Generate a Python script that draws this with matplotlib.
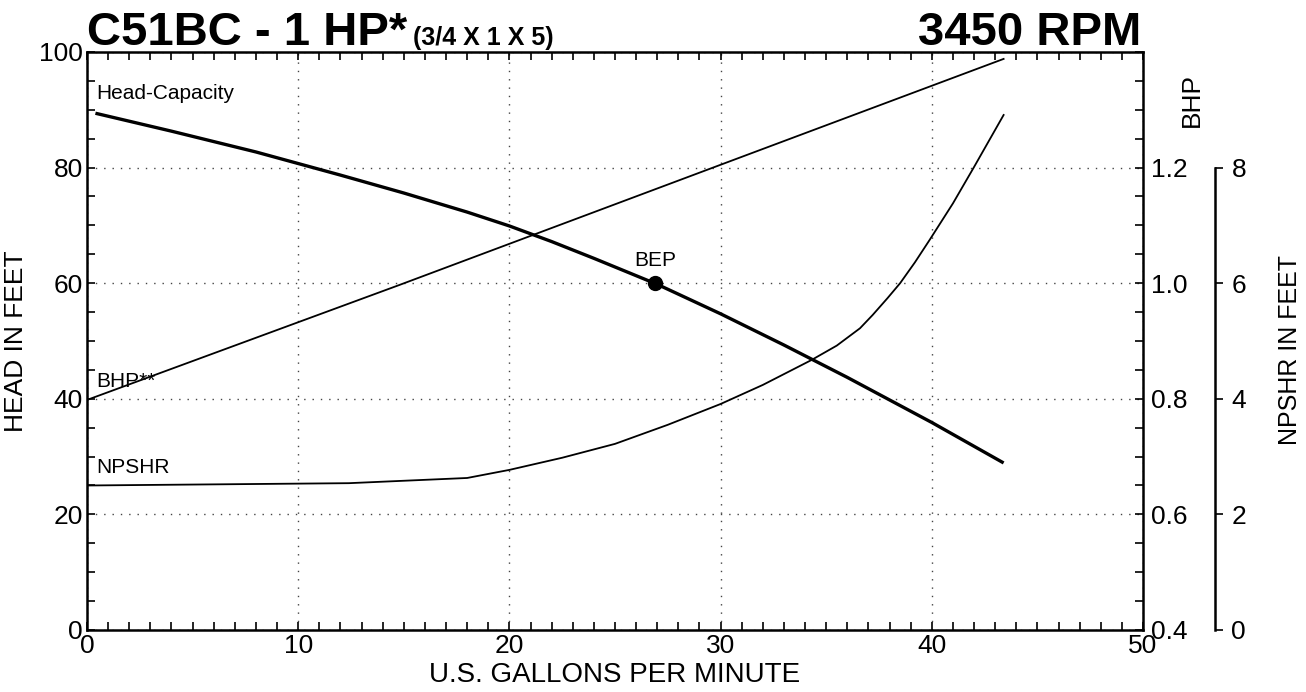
import matplotlib
matplotlib.use("Agg")
import matplotlib.pyplot as plt
from matplotlib.ticker import MultipleLocator, FixedLocator, FormatStrFormatter

plt.rcParams['font.family'] = ['Liberation Sans', 'DejaVu Sans']

# Head-capacity curve (gpm, ft)
hc_gpm = [0.4, 4, 8, 12, 15, 18, 20, 22, 24, 27, 30, 33, 36, 40, 43.4]
hc_head = [89.4, 86.3, 82.7, 78.7, 75.6, 72.3, 69.9, 67.2, 64.3, 59.8, 54.7, 49.3, 43.7, 35.9, 28.9]

# Brake horsepower (gpm, hp)
bhp_gpm = [0, 14.8, 31.4, 43.4]
bhp_val = [0.798, 0.997, 1.224, 1.388]

# NPSHR (gpm, ft)
np_gpm = [0, 12.4, 18, 20, 22.5, 25, 27.5, 30, 32, 34.3, 35.5, 36.6,
          37.2, 37.9, 38.5, 39.2, 39.9, 41, 42, 43.4]
np_val = [2.50, 2.54, 2.63, 2.77, 2.98, 3.22, 3.55, 3.91, 4.24, 4.67, 4.92, 5.22,
          5.45, 5.74, 6.00, 6.36, 6.75, 7.38, 8.01, 8.91]

bep_gpm, bep_head = 26.9, 60.0

fig = plt.figure(figsize=(13.06, 6.92), dpi=100)
ax = fig.add_axes([0.0666, 0.0896, 0.8086, 0.8353])

ax.set_xlim(0, 50)
ax.set_ylim(0, 100)
ax.xaxis.set_major_locator(MultipleLocator(10))
ax.xaxis.set_minor_locator(MultipleLocator(1))
ax.yaxis.set_major_locator(MultipleLocator(20))
ax.yaxis.set_minor_locator(MultipleLocator(5))
ax.tick_params(which='both', direction='in', top=True, right=False,
               length=6, width=1.2, labelsize=19, pad=3)
for s in ax.spines.values():
    s.set_linewidth(1.8)
ax.grid(True, which='major', linestyle=(0, (1, 5)), color='#444', lw=1)

ax.plot(hc_gpm, hc_head, color='black', lw=2.4, solid_capstyle='butt')
ax.plot(bep_gpm, bep_head, 'o', color='black', ms=10)
ax.text(bep_gpm, bep_head + 2.2, 'BEP', fontsize=15, ha='center', va='bottom')
ax.text(0.45, 91.2, 'Head-Capacity', fontsize=15, ha='left', va='bottom')
ax.text(0.45, 41.3, 'BHP**', fontsize=15, ha='left', va='bottom')
ax.text(0.45, 26.4, 'NPSHR', fontsize=15, ha='left', va='bottom')

ax.set_xlabel('U.S. GALLONS PER MINUTE', fontsize=20, labelpad=3)
ax.set_ylabel('HEAD IN FEET', fontsize=19, labelpad=8)

# BHP axis on the right spine
axb = ax.twinx()
axb.set_ylim(0.4, 1.4)
axb.plot(bhp_gpm, bhp_val, color='black', lw=1.3)
axb.yaxis.set_major_locator(FixedLocator([0.4, 0.6, 0.8, 1.0, 1.2, 1.4]))
axb.yaxis.set_minor_locator(MultipleLocator(0.05))
axb.yaxis.set_major_formatter(FormatStrFormatter('%.1f'))
axb.tick_params(which='both', direction='in', length=6, width=1.2, labelsize=19, pad=6)
for s in axb.spines.values():
    s.set_visible(False)
labels = axb.get_yticklabels()
labels[-1].set_visible(False)
fig.text(1192 / 1306, 1 - 100 / 692, 'BHP', fontsize=19, rotation=90,
         ha='center', va='center')

# NPSHR axis, offset spine
axn = ax.twinx()
axn.set_ylim(0, 10)
axn.plot(np_gpm, np_val, color='black', lw=1.3)
for k in ['top', 'bottom', 'left']:
    axn.spines[k].set_visible(False)
axn.spines['right'].set_position(('axes', 1.068))
axn.spines['right'].set_bounds(0, 8)
axn.spines['right'].set_linewidth(1.8)
axn.yaxis.set_major_locator(FixedLocator([0, 2, 4, 6, 8]))
axn.tick_params(direction='out', length=6, width=1.2, labelsize=19, pad=6)
fig.text(1290 / 1306, 1 - 350 / 692, 'NPSHR IN FEET', fontsize=18, rotation=90,
         ha='center', va='center')

fig.text(87 / 1306, 1 - 45 / 692, 'C51BC - 1 HP*', fontsize=34, fontweight='bold',
         ha='left', va='baseline')
fig.text(413 / 1306, 1 - 45 / 692, '(3/4 X 1 X 5)', fontsize=18, fontweight='bold',
         ha='left', va='baseline')
fig.text(1141 / 1306, 1 - 45 / 692, '3450 RPM', fontsize=34, fontweight='bold',
         ha='right', va='baseline')

fig.savefig('out.png', dpi=100)
